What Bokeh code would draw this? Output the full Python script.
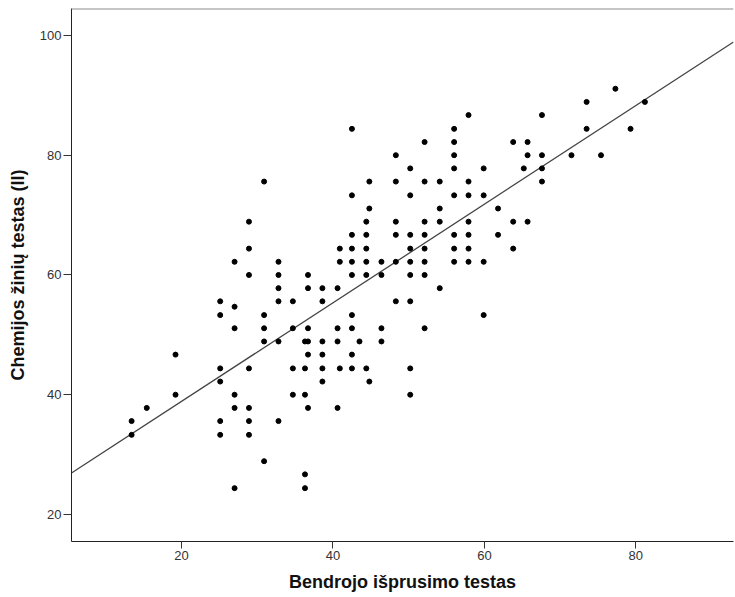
import numpy as np
from bokeh.plotting import figure
from bokeh.models import Range1d, Span, FixedTicker
from bokeh.embed import file_html
from bokeh.resources import INLINE

# Bendrojo išprusimo testas (x) and Chemijos žinių testas (II) (y)
x_vals = [
    25.1, 27.0, 32.8, 34.7, 25.1, 30.9, 27.0, 30.9, 34.7, 36.7,
    30.9, 32.8, 36.3, 36.7, 36.7, 19.2, 25.1, 28.9, 34.7, 36.3,
    25.1, 19.2, 27.0, 34.7, 36.3, 15.4, 27.0, 28.9, 36.7, 13.4,
    25.1, 28.9, 32.8, 13.4, 25.1, 28.9, 30.9, 36.3, 27.0, 36.3,
    30.9, 28.9, 28.9, 40.9, 27.0, 32.8, 40.9, 28.9, 32.8, 36.7,
    32.8, 36.7, 38.6, 40.6, 38.6, 40.6, 38.6, 40.6, 54.1, 48.3,
    50.2, 42.5, 59.9, 42.5, 46.4, 52.1, 43.5, 46.4, 38.6, 42.5,
    38.6, 40.9, 42.5, 44.4, 50.2, 38.6, 44.8, 50.2, 40.6, 42.5,
    56.0, 52.1, 56.0, 48.3, 56.0, 50.2, 56.0, 44.8, 48.3, 52.1,
    54.1, 42.5, 50.2, 56.0, 44.8, 54.1, 44.4, 48.3, 52.1, 54.1,
    42.5, 44.4, 48.3, 50.2, 52.1, 56.0, 42.5, 44.4, 50.2, 52.1,
    56.0, 42.5, 44.4, 46.4, 48.3, 50.2, 52.1, 56.0, 42.5, 44.4,
    46.4, 50.2, 52.1, 77.3, 73.5, 81.2, 57.9, 67.6, 73.5, 79.3,
    63.8, 65.7, 65.7, 67.6, 71.5, 75.4, 59.9, 65.2, 67.6, 57.9,
    67.6, 57.9, 59.9, 61.8, 57.9, 63.8, 65.7, 57.9, 61.8, 57.9,
    63.8, 57.9, 59.9,
]
y_vals = [
    55.6, 54.7, 55.6, 55.6, 53.3, 53.3, 51.1, 51.1, 51.1, 51.1,
    48.9, 48.9, 48.9, 48.9, 46.7, 46.7, 44.4, 44.4, 44.4, 44.4,
    42.2, 40.0, 40.0, 40.0, 40.0, 37.8, 37.8, 37.8, 37.8, 35.6,
    35.6, 35.6, 35.6, 33.3, 33.3, 33.3, 28.9, 26.7, 24.4, 24.4,
    75.6, 68.9, 64.4, 64.4, 62.2, 62.2, 62.2, 60.0, 60.0, 60.0,
    57.8, 57.8, 57.8, 57.8, 55.6, 51.1, 48.9, 48.9, 57.8, 55.6,
    55.6, 53.3, 53.3, 51.1, 51.1, 51.1, 48.9, 48.9, 46.7, 46.7,
    44.4, 44.4, 44.4, 44.4, 44.4, 42.2, 42.2, 40.0, 37.8, 84.4,
    84.4, 82.2, 82.2, 80.0, 80.0, 77.8, 77.8, 75.6, 75.6, 75.6,
    75.6, 73.3, 73.3, 73.3, 71.1, 71.1, 68.9, 68.9, 68.9, 68.9,
    66.7, 66.7, 66.7, 66.7, 66.7, 66.7, 64.4, 64.4, 64.4, 64.4,
    64.4, 62.2, 62.2, 62.2, 62.2, 62.2, 62.2, 62.2, 60.0, 60.0,
    60.0, 60.0, 60.0, 91.1, 88.9, 88.9, 86.7, 86.7, 84.4, 84.4,
    82.2, 82.2, 80.0, 80.0, 80.0, 80.0, 77.8, 77.8, 77.8, 75.6,
    75.6, 73.3, 73.3, 71.1, 68.9, 68.9, 68.9, 66.7, 66.7, 64.4,
    64.4, 62.2, 62.2,
]
x_ticks = [20, 40, 60, 80]
y_ticks = [20, 40, 60, 80, 100]
x_label = "Bendrojo išprusimo testas"
y_label = "Chemijos žinių testas (II)"

x_lo, x_hi = 5.46, 92.9
y_lo, y_hi = 15.49, 104.5

p = figure(width=735, height=597, output_backend="svg", toolbar_location=None,
           x_range=Range1d(x_lo, x_hi), y_range=Range1d(y_lo, y_hi),
           min_border_left=71, min_border_right=2, min_border_top=8,
           min_border_bottom=56)
p.background_fill_color = "white"
p.border_fill_color = "white"
p.outline_line_color = None
p.grid.visible = False

font = "Liberation Sans"
for ax, ticks, lab in ((p.xaxis[0], x_ticks, x_label), (p.yaxis[0], y_ticks, y_label)):
    ax.ticker = FixedTicker(ticks=ticks)
    ax.minor_tick_line_color = None
    ax.major_tick_in = 0
    ax.axis_line_color = "#222222"
    ax.axis_line_width = 1
    ax.major_tick_line_color = "#333333"
    ax.major_label_text_font = font
    ax.major_label_text_font_size = "13px"
    ax.major_label_text_color = "#333333"
    ax.axis_label = lab
    ax.axis_label_text_font = font
    ax.axis_label_text_font_style = "bold"
    ax.axis_label_text_font_size = "18px"
    ax.axis_label_text_color = "#111111"

p.xaxis.major_tick_out = 7
p.xaxis.major_label_standoff = 2
p.xaxis.axis_label_standoff = 9
p.yaxis.major_tick_out = 8
p.yaxis.major_label_standoff = 2
p.yaxis.axis_label_standoff = 9

top = Span(location=y_hi, dimension="width", line_color="#8c8c8c", line_width=2)
p.add_layout(top)

slope, intercept = np.polyfit(np.array(x_vals), np.array(y_vals), 1)
lx = np.array([x_lo, x_hi])
p.line(lx, intercept + slope * lx, line_color="#444444", line_width=1.3)

p.scatter(x_vals, y_vals, size=5, color="black")

open("out.html", "w").write(file_html(p, INLINE))
